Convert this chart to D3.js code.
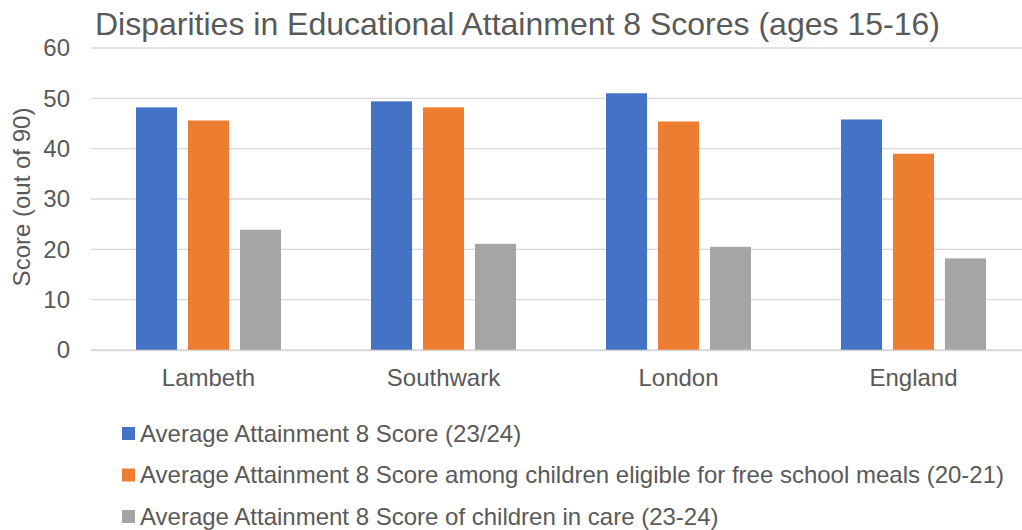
<!DOCTYPE html>
<html>
<head>
<meta charset="utf-8">
<script src="https://cdn.jsdelivr.net/npm/d3@7/dist/d3.min.js"></script>
<style>
  html, body { margin: 0; padding: 0; background: #fff; overflow: hidden; }
  svg { display: block; font-family: "Liberation Sans", Arial, sans-serif; }
</style>
</head>
<body>
<svg id="chart" width="1022" height="530"></svg>
<script>
// Attainment 8 scores by area
const categories = ["Lambeth", "Southwark", "London", "England"];
const seriesNames = [
  "Average Attainment 8 Score (23/24)",
  "Average Attainment 8 Score among children eligible for free school meals (20-21)",
  "Average Attainment 8 Score of children in care (23-24)"
];
const avgScore = [48.2, 49.4, 51.0, 45.8];
const fsmScore = [45.6, 48.2, 45.4, 39.0];
const careScore = [23.9, 21.1, 20.5, 18.2];
const yTicks = [0, 10, 20, 30, 40, 50, 60];
const colors = ["#4472c4", "#ed7d31", "#a5a5a5"];

const seriesValues = [avgScore, fsmScore, careScore];
const rows = categories.map((c, i) => ({
  category: c,
  values: seriesValues.map((s, j) => ({ key: j, value: s[i] }))
}));

const svg = d3.select("#chart");
const plot = { left: 91, right: 1031, top: 48, bottom: 350 };
const textColor = "#595959";
const fontSize = "24px";

const x0 = d3.scaleBand().domain(categories).range([plot.left, plot.right]).paddingInner(0).paddingOuter(0);
const x1 = d3.scaleBand().domain([0, 1, 2]).range([0, 145]).paddingInner(0.21);
const groupOffset = (x0.bandwidth() - 145) / 2;
const y = d3.scaleLinear().domain([0, 60]).range([plot.bottom, plot.top]);

// gridlines
svg.append("g")
  .selectAll("line")
  .data(yTicks)
  .join("line")
  .attr("x1", plot.left).attr("x2", plot.right)
  .attr("y1", d => y(d)).attr("y2", d => y(d))
  .attr("stroke", "#d9d9d9").attr("stroke-width", 1.3);

// y-axis tick labels
const yAxis = d3.axisLeft(y).tickValues(yTicks).tickSize(0).tickPadding(21);
svg.append("g")
  .attr("transform", `translate(${plot.left},0)`)
  .call(yAxis)
  .call(g => g.select(".domain").remove())
  .call(g => g.selectAll("text")
    .attr("fill", textColor)
    .style("font-size", fontSize)
    .style("font-family", "Liberation Sans, Arial, sans-serif"));

// bars
svg.append("g")
  .selectAll("g")
  .data(rows)
  .join("g")
  .attr("transform", d => `translate(${x0(d.category) + groupOffset},0)`)
  .selectAll("rect")
  .data(d => d.values)
  .join("rect")
  .attr("x", d => x1(d.key))
  .attr("width", x1.bandwidth())
  .attr("y", d => y(d.value))
  .attr("height", d => y(0) - y(d.value))
  .attr("fill", d => colors[d.key]);

// x-axis
const xAxis = d3.axisBottom(x0).tickSize(0).tickPadding(19);
svg.append("g")
  .attr("transform", `translate(0,${plot.bottom})`)
  .call(xAxis)
  .call(g => g.select(".domain").attr("stroke", "#d9d9d9").attr("stroke-width", 1.3))
  .call(g => g.selectAll("text")
    .attr("fill", textColor)
    .style("font-size", fontSize)
    .style("font-family", "Liberation Sans, Arial, sans-serif"));

// y-axis title
svg.append("text")
  .attr("transform", `translate(30,${197}) rotate(-90)`)
  .attr("text-anchor", "middle")
  .attr("fill", textColor)
  .style("font-size", fontSize)
  .text("Score (out of 90)");

// chart title
svg.append("text")
  .attr("x", 95).attr("y", 35)
  .attr("fill", textColor)
  .style("font-size", "32px")
  .text("Disparities in Educational Attainment 8 Scores (ages 15-16)");

// legend
const legend = svg.append("g")
  .selectAll("g")
  .data(seriesNames)
  .join("g")
  .attr("transform", (d, i) => `translate(122,${433 + i * 41.5})`);
legend.append("rect")
  .attr("x", 0).attr("y", -6).attr("width", 13).attr("height", 13)
  .attr("fill", (d, i) => colors[i]);
legend.append("text")
  .attr("x", 18).attr("y", 8.5)
  .attr("fill", textColor)
  .style("font-size", fontSize)
  .text(d => d);
</script>
</body>
</html>
